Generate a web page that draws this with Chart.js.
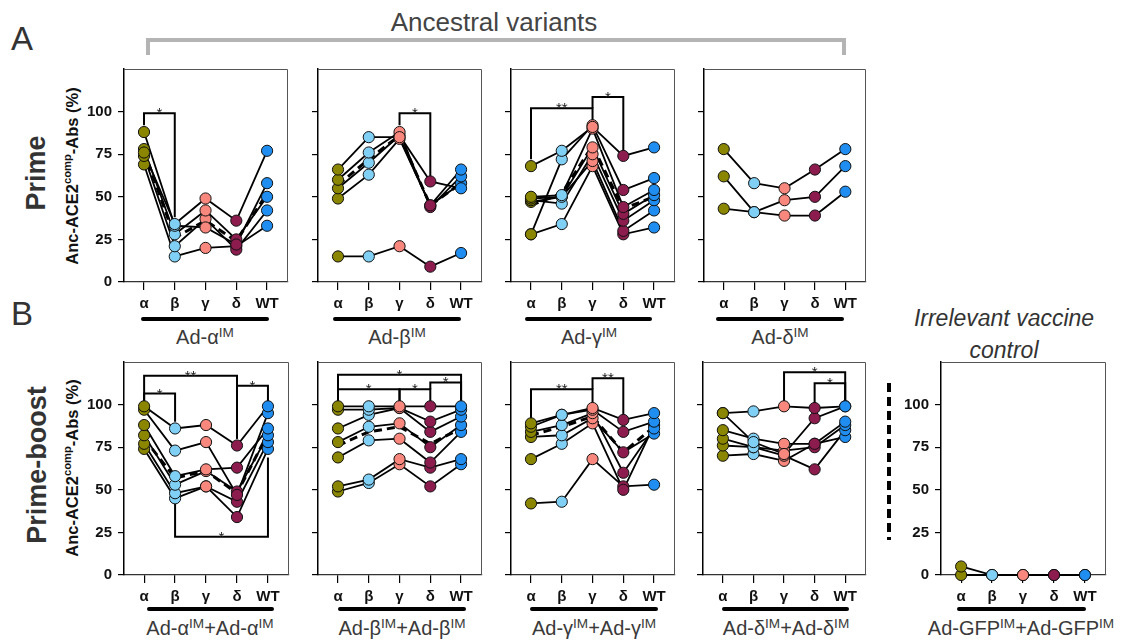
<!DOCTYPE html>
<html>
<head>
<meta charset="utf-8">
<script src="https://cdn.jsdelivr.net/npm/chart.js@4.4.1/dist/chart.umd.min.js"></script>
<style>
  body { margin: 0; background: #fff; }
  #wrap { position: relative; width: 1124px; height: 644px; overflow: hidden; font-family: 'Liberation Sans', Arial, sans-serif; color: #333; }
  #wrap canvas { position: absolute; }
  .abs { position: absolute; white-space: nowrap; }
  .rot { transform: translate(-50%, -50%) rotate(-90deg); }
  .ytitle { font-weight: bold; font-size: 16.5px; color: #111; }
  .ytitle sup, .grp sup { font-size: 0.68em; vertical-align: 0.55em; line-height: 0; }
  .bar { position: absolute; height: 4px; background: #000; border-radius: 2px; }
  .grp { position: absolute; font-size: 20px; line-height: 24px; text-align: center; color: #3a3a3a; transform: translateX(-50%); white-space: nowrap; }
</style>
</head>
<body>
<div id="wrap">
  <div class="abs" style="left:294px; top:7px; width:400px; text-align:center; font-size:26px; line-height:30px; color:#444;">Ancestral variants</div>
  <div class="abs" style="left:146px; top:38px; width:700px; height:17px; box-sizing:border-box; border:4px solid #b4b4b4; border-bottom:none;"></div>
  <div class="abs" style="left:11px; top:22px; font-size:33px; line-height:33px; color:#333;">A</div>
  <div class="abs" style="left:11px; top:297px; font-size:33px; line-height:33px; color:#333;">B</div>
  <div class="abs rot" style="left:36px; top:173px; font-size:27px; font-weight:bold;">Prime</div>
  <div class="abs rot" style="left:37px; top:465px; font-size:27px; font-weight:bold;">Prime-boost</div>
  <div class="abs rot ytitle" style="left:72px; top:176px;">Anc-ACE2<sup>comp</sup>-Abs (%)</div>
  <div class="abs rot ytitle" style="left:72px; top:468px;">Anc-ACE2<sup>comp</sup>-Abs (%)</div>

  <div class="bar" style="left:141px; top:317px; width:128px;"></div>
  <div class="bar" style="left:333px; top:317px; width:128px;"></div>
  <div class="bar" style="left:525px; top:317px; width:127px;"></div>
  <div class="bar" style="left:716px; top:317px; width:128px;"></div>
  <div class="grp" style="left:205px; top:325px;">Ad-α<sup>IM</sup></div>
  <div class="grp" style="left:397px; top:325px;">Ad-β<sup>IM</sup></div>
  <div class="grp" style="left:589px; top:325px;">Ad-γ<sup>IM</sup></div>
  <div class="grp" style="left:780px; top:325px;">Ad-δ<sup>IM</sup></div>

  <div class="bar" style="left:147px; top:607px; width:127px;"></div>
  <div class="bar" style="left:338px; top:607px; width:128px;"></div>
  <div class="bar" style="left:530px; top:607px; width:128px;"></div>
  <div class="bar" style="left:722px; top:607px; width:127px;"></div>
  <div class="bar" style="left:957px; top:607px; width:129px;"></div>
  <div class="grp" style="left:210px; top:616px;">Ad-α<sup>IM</sup>+Ad-α<sup>IM</sup></div>
  <div class="grp" style="left:402px; top:616px;">Ad-β<sup>IM</sup>+Ad-β<sup>IM</sup></div>
  <div class="grp" style="left:594px; top:616px;">Ad-γ<sup>IM</sup>+Ad-γ<sup>IM</sup></div>
  <div class="grp" style="left:786px; top:616px;">Ad-δ<sup>IM</sup>+Ad-δ<sup>IM</sup></div>
  <div class="grp" style="left:1021px; top:616px;">Ad-GFP<sup>IM</sup>+Ad-GFP<sup>IM</sup></div>

  <div class="abs" style="left:1004px; top:302px; transform:translateX(-50%); text-align:center; font-size:23px; line-height:32px; font-style:italic; color:#333;">Irrelevant vaccine<br>control</div>
  <div class="abs" style="left:887px; top:383px; width:4px; height:157px; background:repeating-linear-gradient(to bottom, #000 0 9px, transparent 9px 14px);"></div>
</div>

<script>
const variants = ["α", "β", "γ", "δ", "WT"];
const pointColors = ["#8a8600", "#80d0f6", "#f8877d", "#8c1b4e", "#1f8ef0"];
const yTicks = [0, 25, 50, 75, 100];

// Prime: Ad-α
const primeAlpha = [
  [76, 34, 49, 36, 77],
  [88, 33, 32, 22, 58],
  [78, 28, 42, 25, 50],
  [74, 21, 37, 19, 42],
  [69, 15, 20, 21, 33]
];
const primeAlphaMean = [77, 26, 36, 24, 52];
const primeAlphaSig = [[0, 1, 99, 92, 38, "*"]];

// Prime: Ad-β
const primeBeta = [
  [66, 85, 85, 45, 66],
  [60, 76, 88, 44, 62],
  [55, 70, 86, 59, 55],
  [49, 63, 84, 45, 58],
  [15, 15, 21, 9, 17]
];
const primeBetaMean = [57, 72, 86, 45, 58];
const primeBetaSig = [[2, 3, 99, 92, 62, "*"]];

// Prime: Ad-γ
const primeGamma = [
  [68, 77, 91, 74, 79],
  [28, 72, 92, 54, 61],
  [50, 51, 90, 44, 54],
  [49, 50, 79, 40, 51],
  [48, 46, 75, 36, 48],
  [47, 50, 71, 30, 42],
  [28, 34, 68, 28, 32]
];
const primeGammaMean = [45, 52, 80, 43, 50];
const primeGammaSig = [[0, 2, 102, 72, 95, "**"], [2, 3, 108.5, 102, 77, "*"]];

// Prime: Ad-δ
const primeDelta = [
  [78, 58, 55, 66, 78],
  [62, 41, 48, 50, 68],
  [43, 41, 39, 39, 53]
];

// Prime-boost: Ad-α + Ad-α
const boostAlpha = [
  [99, 86, 88, 76, 99],
  [97, 73, 78, 47, 95],
  [88, 58, 62, 63, 86],
  [82, 53, 61, 49, 82],
  [77, 48, 52, 43, 78],
  [74, 45, 52, 34, 74]
];
const boostAlphaMean = [80, 57, 61, 48, 83];
const boostAlphaSig = [
  [0, 3, 117, 101, 80, "**"],
  [0, 1, 106.5, 101, 90, "*"],
  [3, 4, 111, 80, 101, "*"],
  [1, 4, 22.5, 42, 69, "*"]
];

// Prime-boost: Ad-β + Ad-β
const boostBeta = [
  [99, 99, 99, 99, 99],
  [97, 97, 98, 90, 97],
  [86, 94, 98, 84, 93],
  [78, 87, 89, 75, 88],
  [69, 79, 80, 66, 84],
  [52, 56, 68, 63, 68],
  [49, 54, 65, 52, 65]
];
const boostBetaMean = [76, 84, 87, 77, 86];
const boostBetaSig = [
  [0, 4, 117.5, 100, 102, "*"],
  [0, 2, 109, 100, 101, "*"],
  [2, 3, 109, 101, 100, "*"],
  [3, 4, 113, 109, 102, "*"]
];

// Prime-boost: Ad-γ + Ad-γ
const boostGamma = [
  [89, 94, 98, 91, 95],
  [87, 94, 97, 84, 90],
  [84, 88, 95, 60, 86],
  [81, 82, 92, 72, 83],
  [68, 77, 89, 50, 88],
  [42, 43, 68, 52, 53]
];
const boostGammaMean = [82, 87, 93, 72, 87];
const boostGammaSig = [[0, 2, 109, 91, 100, "**"], [2, 3, 115.5, 109, 93, "**"]];

// Prime-boost: Ad-δ + Ad-δ
const boostDelta = [
  [95, 96, 99, 98, 99],
  [95, 78, 71, 92, 99],
  [85, 80, 77, 77, 90],
  [80, 75, 73, 75, 88],
  [76, 75, 70, 62, 85],
  [70, 71, 67, 77, 81]
];
const boostDeltaSig = [[2, 4, 119, 101, 101, "*"], [3, 4, 112.5, 100, 101, "*"]];

// Prime-boost: Ad-GFP + Ad-GFP
const boostGfp = [
  [5, 0, 0, 0, 0],
  [0, 0, 0, 0, 0]
];

Chart.defaults.font.family = "'Liberation Sans', Arial, sans-serif";

// significance brackets, drawn in data units
const bracketPlugin = {
  id: "brackets",
  beforeDatasetsDraw(chart, args, opts) {
    const ctx = chart.ctx;
    const x = chart.scales.x, y = chart.scales.y;
    ctx.save();
    ctx.strokeStyle = "#000";
    ctx.lineWidth = 2;
    ctx.fillStyle = "#222";
    ctx.font = "15px 'Liberation Sans', Arial, sans-serif";
    ctx.textAlign = "center";
    ctx.textBaseline = "alphabetic";
    (opts.list || []).forEach(b => {
      const xa = x.getPixelForValue(b[0]);
      const xb = x.getPixelForValue(b[1]);
      const yl = y.getPixelForValue(b[2]);
      ctx.beginPath();
      ctx.moveTo(xa, y.getPixelForValue(b[3]));
      ctx.lineTo(xa, yl);
      ctx.lineTo(xb, yl);
      ctx.lineTo(xb, y.getPixelForValue(b[4]));
      ctx.stroke();
      ctx.fillText(b[5], (xa + xb) / 2, yl + 5);
    });
    ctx.restore();
  }
};

// thin top and right frame of each panel
const framePlugin = {
  id: "frame",
  afterDraw(chart) {
    const a = chart.chartArea, ctx = chart.ctx;
    ctx.save();
    ctx.strokeStyle = "#555";
    ctx.lineWidth = 1;
    ctx.beginPath();
    ctx.moveTo(a.left, a.top + 0.5);
    ctx.lineTo(a.right - 0.5, a.top + 0.5);
    ctx.lineTo(a.right - 0.5, a.bottom);
    ctx.stroke();
    ctx.restore();
  }
};

function pts(values) {
  return values.map((v, i) => ({ x: i, y: v }));
}

function makePanel(axisX, plotTop, plotW, subjects, mean, sig, showY) {
  const canvas = document.createElement("canvas");
  const yW = 50, xH = 32, padTop = 2, padRight = 4, plotH = 213;
  canvas.width = yW + plotW + padRight;
  canvas.height = padTop + plotH + xH;
  canvas.style.left = (axisX - yW) + "px";
  canvas.style.top = (plotTop - padTop) + "px";
  document.getElementById("wrap").appendChild(canvas);

  const datasets = [];
  subjects.forEach(s => datasets.push({
    data: pts(s), showLine: false, pointRadius: 5.6,
    pointBackgroundColor: pointColors, pointBorderColor: "#111", pointBorderWidth: 1, clip: false
  }));
  if (mean) {
    datasets.push({
      data: pts(mean), borderColor: "#000", borderWidth: 3, borderDash: [8, 5], pointRadius: 0, clip: false
    });
  }
  subjects.forEach(s => datasets.push({
    data: pts(s), borderColor: "#000", borderWidth: 1.8, pointRadius: 0, clip: false
  }));

  return new Chart(canvas.getContext("2d"), {
    type: "line",
    data: { datasets: datasets },
    options: {
      responsive: false,
      animation: false,
      layout: { autoPadding: false, padding: { top: padTop, right: padRight, left: 0, bottom: 0 } },
      plugins: {
        legend: { display: false },
        tooltip: { enabled: false },
        brackets: { list: sig || [] }
      },
      scales: {
        x: {
          type: "linear", min: -0.65, max: 4.68,
          afterBuildTicks: s => { s.ticks = variants.map((v, i) => ({ value: i })); },
          afterFit: s => { s.height = xH; s.paddingLeft = 0; s.paddingRight = 0; },
          ticks: {
            callback: v => variants[v], color: "#111", padding: 5,
            font: { size: 15, weight: "bold" }, maxRotation: 0, autoSkip: false
          },
          grid: { drawOnChartArea: false, drawTicks: true, tickLength: 8, color: "#000", lineWidth: 1.2 },
          border: { color: "#333", width: 1.2 }
        },
        y: {
          min: 0, max: 125,
          afterBuildTicks: s => { s.ticks = yTicks.map(v => ({ value: v })); },
          afterFit: s => { s.width = yW; s.paddingTop = 0; s.paddingBottom = 0; },
          ticks: {
            callback: v => showY ? v : "", color: "#111", padding: 6,
            font: { size: 15, weight: "bold" }
          },
          grid: { drawOnChartArea: false, drawTicks: true, tickLength: 6, color: "#000", lineWidth: 1.2 },
          border: { color: "#000", width: 1.5 }
        }
      }
    },
    plugins: [bracketPlugin, framePlugin]
  });
}

makePanel(124, 69, 164, primeAlpha, primeAlphaMean, primeAlphaSig, true);
makePanel(318, 69, 164, primeBeta, primeBetaMean, primeBetaSig, false);
makePanel(511, 69, 164, primeGamma, primeGammaMean, primeGammaSig, false);
makePanel(704, 69, 162, primeDelta, null, null, false);

makePanel(124, 362, 165, boostAlpha, boostAlphaMean, boostAlphaSig, true);
makePanel(318, 362, 164, boostBeta, boostBetaMean, boostBetaSig, false);
makePanel(511, 362, 164, boostGamma, boostGammaMean, boostGammaSig, false);
makePanel(703, 362, 163, boostDelta, null, boostDeltaSig, false);
makePanel(941, 362, 165, boostGfp, null, null, true);
</script>
</body>
</html>
